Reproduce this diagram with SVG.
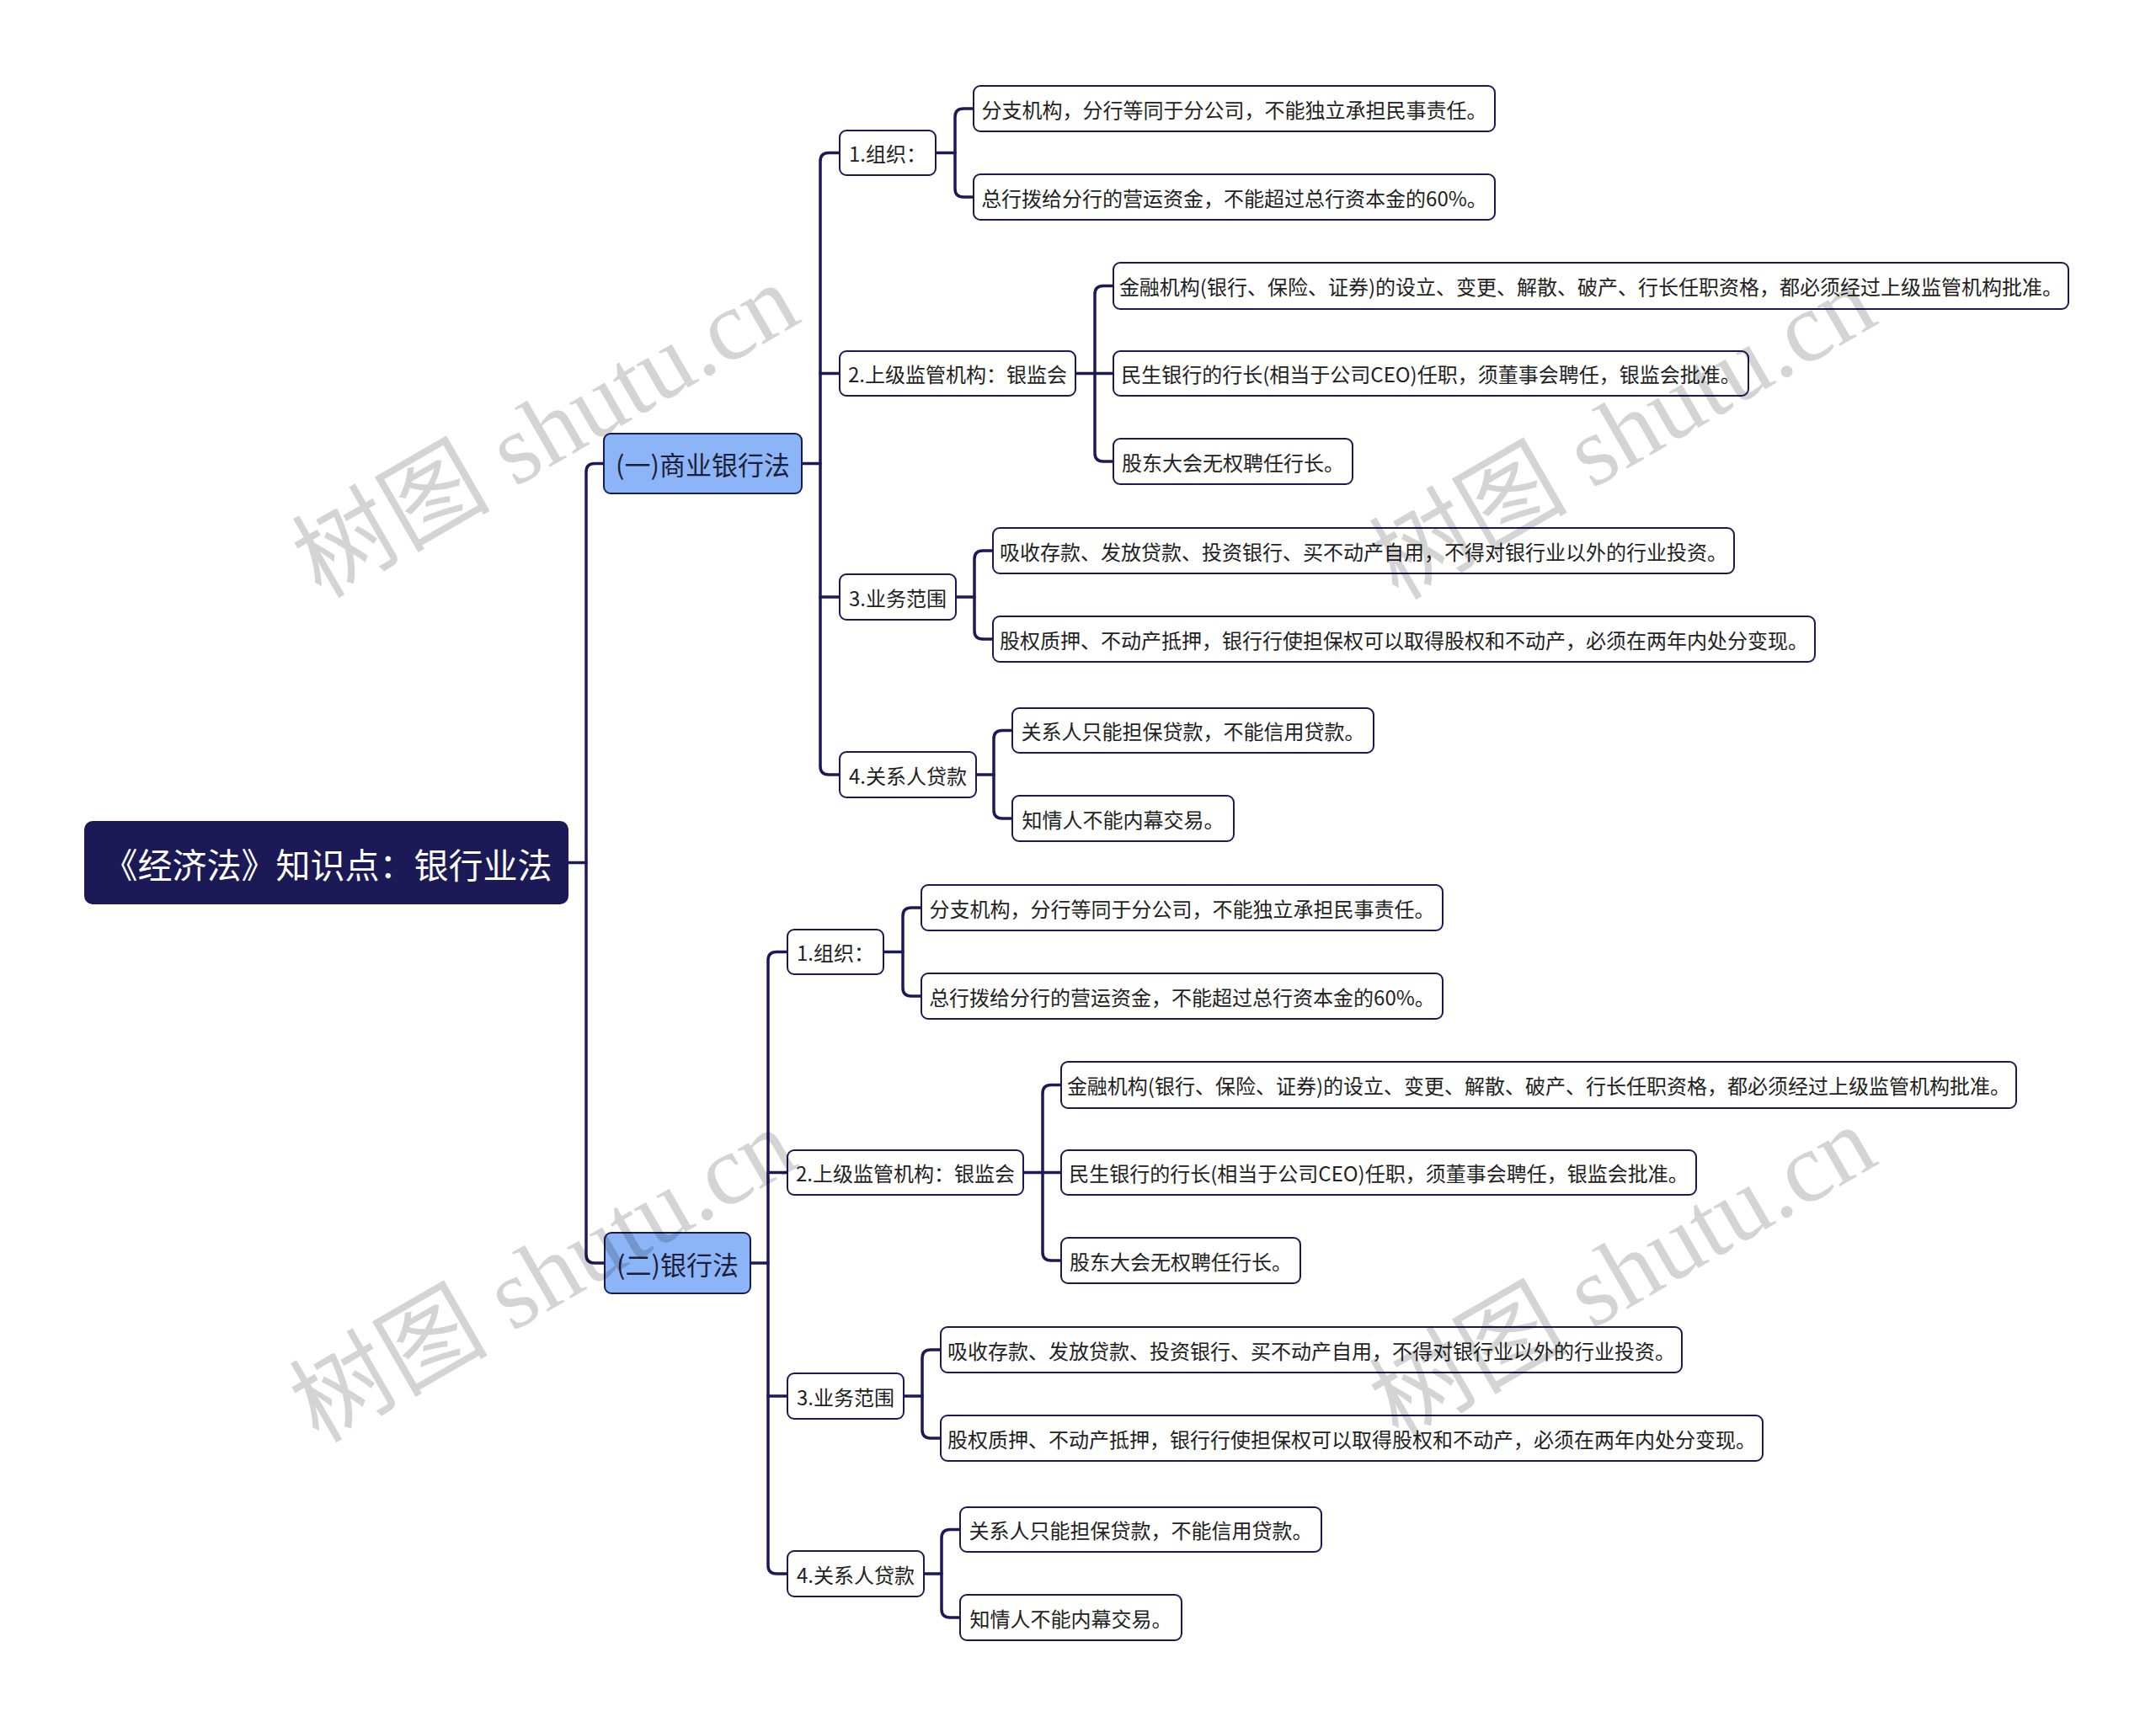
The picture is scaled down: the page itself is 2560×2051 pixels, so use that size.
<svg xmlns="http://www.w3.org/2000/svg" width="2560" height="2051" viewBox="0 0 2560 2051">
<style>
.conn{fill:none;stroke:#1c1a56;stroke-width:3.5;stroke-linecap:round;stroke-linejoin:round}
.box{fill:#ffffff;stroke:#1c1a56;stroke-width:2}
.l1box{fill:#8cb5f8;stroke:#1c1a56;stroke-width:2}
.rootbox{fill:#1c1a56;stroke:#1c1a56;stroke-width:2}
.t{font-family:"Noto Sans CJK SC","Noto Sans",sans-serif;font-size:24px;fill:#222222;text-anchor:middle;dominant-baseline:central}
.t1{font-family:"Noto Sans CJK SC","Noto Sans",sans-serif;font-size:31px;fill:#1e1e3a;text-anchor:middle;dominant-baseline:central}
.tr{font-family:"Noto Sans CJK SC","Noto Sans",sans-serif;font-size:41px;fill:#ffffff;text-anchor:middle;dominant-baseline:central}
.wm{font-family:"Liberation Serif","Noto Sans CJK SC",serif;font-size:118px;fill:#000000;fill-opacity:0.17;text-anchor:middle;dominant-baseline:central}
</style>

<g id="connectors">
  <path class="conn" d="M674,1024.5 H696"/>
  <path class="conn" d="M717,550.5 H706 Q696,550.5 696,560.5 V1490 Q696,1500 706,1500 H718"/>
  <g id="conn-sub1">
    <path class="conn" d="M952,550.5 H974"/>
    <path class="conn" d="M997,181.5 H984 Q974,181.5 974,191.5 V910 Q974,920 984,920 H997"/>
    <path class="conn" d="M974,443.5 H997"/>
    <path class="conn" d="M974,709 H997"/>
    <path class="conn" d="M1111,181.5 H1134"/>
    <path class="conn" d="M1156,129 H1144 Q1134,129 1134,139 V224 Q1134,234 1144,234 H1156"/>
    <path class="conn" d="M1277,443.5 H1322"/>
    <path class="conn" d="M1322,339.5 H1310 Q1300,339.5 1300,349.5 V538 Q1300,548 1310,548 H1322"/>
    <path class="conn" d="M1135,709 H1157"/>
    <path class="conn" d="M1179,654 H1167 Q1157,654 1157,664 V749 Q1157,759 1167,759 H1179"/>
    <path class="conn" d="M1159,920 H1180"/>
    <path class="conn" d="M1202,867.5 H1190 Q1180,867.5 1180,877.5 V962 Q1180,972 1190,972 H1202"/>
  </g>
  <g id="conn-sub2">
    <path class="conn" d="M891,1500 H912"/>
    <g transform="translate(-62,949)">
      <path class="conn" d="M997,181.5 H984 Q974,181.5 974,191.5 V910 Q974,920 984,920 H997"/>
      <path class="conn" d="M974,443.5 H997"/>
      <path class="conn" d="M974,709 H997"/>
      <path class="conn" d="M1111,181.5 H1134"/>
      <path class="conn" d="M1156,129 H1144 Q1134,129 1134,139 V224 Q1134,234 1144,234 H1156"/>
      <path class="conn" d="M1277,443.5 H1322"/>
      <path class="conn" d="M1322,339.5 H1310 Q1300,339.5 1300,349.5 V538 Q1300,548 1310,548 H1322"/>
      <path class="conn" d="M1135,709 H1157"/>
      <path class="conn" d="M1179,654 H1167 Q1157,654 1157,664 V749 Q1157,759 1167,759 H1179"/>
      <path class="conn" d="M1159,920 H1180"/>
      <path class="conn" d="M1202,867.5 H1190 Q1180,867.5 1180,877.5 V962 Q1180,972 1190,972 H1202"/>
    </g>
  </g>
</g>

<g id="root">
  <rect class="rootbox" x="101" y="976" width="573" height="97" rx="9"/>
  <text class="tr" x="389" y="1024.5">《经济法》知识点：银行业法</text>
</g>

<g id="n1">
  <rect class="l1box" x="717" y="515" width="235" height="71" rx="8"/>
  <text class="t1" x="834.5" y="550.5">(一)商业银行法</text>
</g>
<g id="n1-1"><rect class="box" x="997" y="155" width="114" height="53" rx="8"/><text class="t" x="1054" y="181.5">1.组织：</text></g>
<g id="n1-1-1"><rect class="box" x="1156" y="102" width="619" height="54" rx="8"/><text class="t" x="1465.5" y="129">分支机构，分行等同于分公司，不能独立承担民事责任。</text></g>
<g id="n1-1-2"><rect class="box" x="1156" y="207" width="619" height="54" rx="8"/><text class="t" x="1465.5" y="234">总行拨给分行的营运资金，不能超过总行资本金的60%。</text></g>
<g id="n1-2"><rect class="box" x="997" y="417" width="280" height="53" rx="8"/><text class="t" x="1137" y="443.5">2.上级监管机构：银监会</text></g>
<g id="n1-2-1"><rect class="box" x="1322" y="312" width="1134" height="55" rx="8"/><text class="t" x="1889" y="339.5">金融机构(银行、保险、证券)的设立、变更、解散、破产、行长任职资格，都必须经过上级监管机构批准。</text></g>
<g id="n1-2-2"><rect class="box" x="1322" y="417" width="754" height="53" rx="8"/><text class="t" x="1699" y="443.5">民生银行的行长(相当于公司CEO)任职，须董事会聘任，银监会批准。</text></g>
<g id="n1-2-3"><rect class="box" x="1322" y="521" width="284" height="54" rx="8"/><text class="t" x="1464" y="548">股东大会无权聘任行长。</text></g>
<g id="n1-3"><rect class="box" x="997" y="682" width="138" height="54" rx="8"/><text class="t" x="1066" y="709">3.业务范围</text></g>
<g id="n1-3-1"><rect class="box" x="1179" y="627" width="880" height="54" rx="8"/><text class="t" x="1619" y="654">吸收存款、发放贷款、投资银行、买不动产自用，不得对银行业以外的行业投资。</text></g>
<g id="n1-3-2"><rect class="box" x="1179" y="732" width="976" height="54" rx="8"/><text class="t" x="1667" y="759">股权质押、不动产抵押，银行行使担保权可以取得股权和不动产，必须在两年内处分变现。</text></g>
<g id="n1-4"><rect class="box" x="997" y="893" width="162" height="54" rx="8"/><text class="t" x="1078" y="920">4.关系人贷款</text></g>
<g id="n1-4-1"><rect class="box" x="1202" y="841" width="429" height="53" rx="8"/><text class="t" x="1416.5" y="867.5">关系人只能担保贷款，不能信用贷款。</text></g>
<g id="n1-4-2"><rect class="box" x="1202" y="945" width="263" height="54" rx="8"/><text class="t" x="1333.5" y="972">知情人不能内幕交易。</text></g>

<g id="n2">
  <rect class="l1box" x="718" y="1464" width="173" height="72" rx="8"/>
  <text class="t1" x="804.5" y="1500">(二)银行法</text>
</g>
<g transform="translate(-62,949)">
<g id="n2-1"><rect class="box" x="997" y="155" width="114" height="53" rx="8"/><text class="t" x="1054" y="181.5">1.组织：</text></g>
<g id="n2-1-1"><rect class="box" x="1156" y="102" width="619" height="54" rx="8"/><text class="t" x="1465.5" y="129">分支机构，分行等同于分公司，不能独立承担民事责任。</text></g>
<g id="n2-1-2"><rect class="box" x="1156" y="207" width="619" height="54" rx="8"/><text class="t" x="1465.5" y="234">总行拨给分行的营运资金，不能超过总行资本金的60%。</text></g>
<g id="n2-2"><rect class="box" x="997" y="417" width="280" height="53" rx="8"/><text class="t" x="1137" y="443.5">2.上级监管机构：银监会</text></g>
<g id="n2-2-1"><rect class="box" x="1322" y="312" width="1134" height="55" rx="8"/><text class="t" x="1889" y="339.5">金融机构(银行、保险、证券)的设立、变更、解散、破产、行长任职资格，都必须经过上级监管机构批准。</text></g>
<g id="n2-2-2"><rect class="box" x="1322" y="417" width="754" height="53" rx="8"/><text class="t" x="1699" y="443.5">民生银行的行长(相当于公司CEO)任职，须董事会聘任，银监会批准。</text></g>
<g id="n2-2-3"><rect class="box" x="1322" y="521" width="284" height="54" rx="8"/><text class="t" x="1464" y="548">股东大会无权聘任行长。</text></g>
<g id="n2-3"><rect class="box" x="997" y="682" width="138" height="54" rx="8"/><text class="t" x="1066" y="709">3.业务范围</text></g>
<g id="n2-3-1"><rect class="box" x="1179" y="627" width="880" height="54" rx="8"/><text class="t" x="1619" y="654">吸收存款、发放贷款、投资银行、买不动产自用，不得对银行业以外的行业投资。</text></g>
<g id="n2-3-2"><rect class="box" x="1179" y="732" width="976" height="54" rx="8"/><text class="t" x="1667" y="759">股权质押、不动产抵押，银行行使担保权可以取得股权和不动产，必须在两年内处分变现。</text></g>
<g id="n2-4"><rect class="box" x="997" y="893" width="162" height="54" rx="8"/><text class="t" x="1078" y="920">4.关系人贷款</text></g>
<g id="n2-4-1"><rect class="box" x="1202" y="841" width="429" height="53" rx="8"/><text class="t" x="1416.5" y="867.5">关系人只能担保贷款，不能信用贷款。</text></g>
<g id="n2-4-2"><rect class="box" x="1202" y="945" width="263" height="54" rx="8"/><text class="t" x="1333.5" y="972">知情人不能内幕交易。</text></g>
</g>

<g id="watermarks">
  <text class="wm" x="648" y="512" transform="rotate(-30 648 512)">树图 shutu.cn</text>
  <text class="wm" x="1927" y="514" transform="rotate(-30 1927 514)">树图 shutu.cn</text>
  <text class="wm" x="645" y="1515" transform="rotate(-30 645 1515)">树图 shutu.cn</text>
  <text class="wm" x="1927" y="1512" transform="rotate(-30 1927 1512)">树图 shutu.cn</text>
</g>
</svg>
